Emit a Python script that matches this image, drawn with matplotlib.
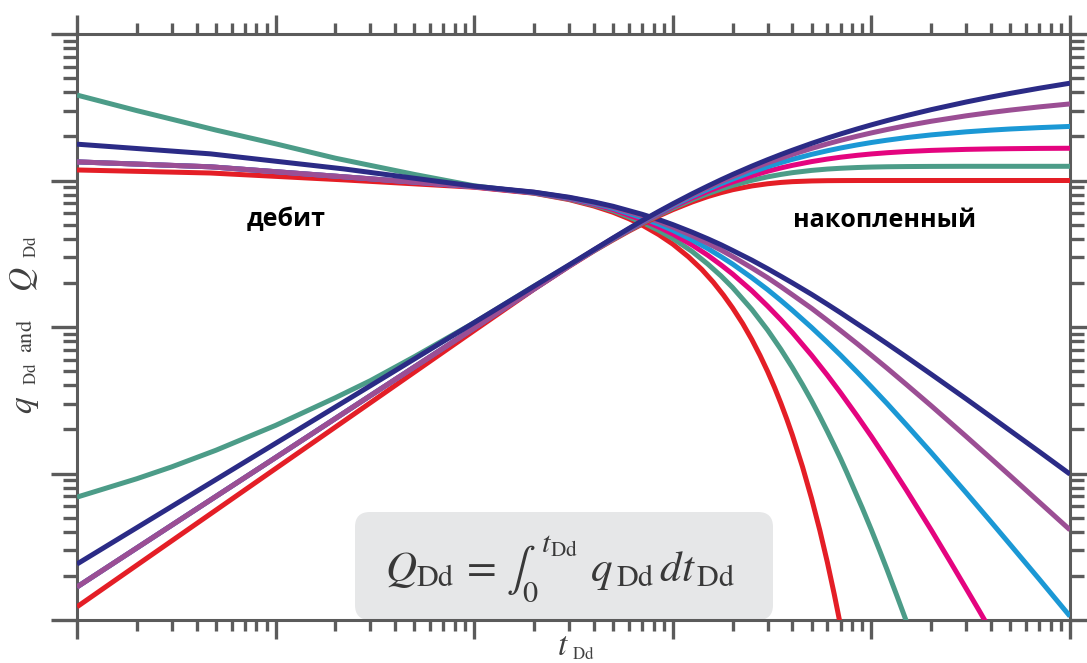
import numpy as np
import matplotlib
matplotlib.use("Agg")
import matplotlib.pyplot as plt
from matplotlib.patches import FancyBboxPatch
from matplotlib.ticker import LogLocator, NullFormatter

plt.rcParams["mathtext.fontset"] = "stix"
plt.rcParams["font.family"] = ["Open Sans", "DejaVu Sans"]

# Arps type curves, b = 0 ... 1 (dimensionless time, rate and cumulative)
B_VALUES = [0.0, 0.2, 0.4, 0.6, 0.8, 1.0]
COLORS = ["#e41e26", "#4c9c88", "#e4047f", "#1b98d5", "#9b4e94", "#2b2b86"]

# rate curves q_Dd(t_Dd)
t_rate_b00 = [0.001, 0.0047, 0.022, 0.1, 0.2, 0.3, 0.4, 0.5, 0.6, 0.7, 0.85, 1, 1.2,
              1.4, 1.6, 1.8, 2, 2.25, 2.5, 2.75, 3, 3.25, 3.5, 3.75, 4, 4.5, 5, 5.5,
              6, 6.5, 7]
q_rate_b00 = [1.18, 1.125, 1.01, 0.90, 0.819, 0.741, 0.670, 0.607, 0.549, 0.497,
              0.427, 0.368, 0.301, 0.247, 0.202, 0.165, 0.135, 0.1054, 0.0821,
              0.0639, 0.0498, 0.0388, 0.0302, 0.0235, 0.0183, 0.0111, 0.00674,
              0.00409, 0.00248, 0.00150, 0.00091]

t_rate_b02 = [0.001, 0.002, 0.005, 0.01, 0.02, 0.05, 0.1, 0.2, 0.3, 0.4, 0.5, 0.7,
              0.85, 1, 1.25, 1.5, 1.75, 2, 2.5, 3, 3.5, 4, 4.5, 5, 5.5, 6, 6.5, 7,
              7.5, 9, 10, 11, 12, 13.5, 15]
q_rate_b02 = [3.83, 3.0, 2.21, 1.78, 1.42, 1.10, 0.92, 0.822, 0.747, 0.681, 0.621,
              0.519, 0.456, 0.402, 0.328, 0.269, 0.223, 0.186, 0.1317, 0.0954,
              0.0704, 0.0529, 0.0404, 0.0313, 0.0245, 0.0194, 0.01554, 0.0126,
              0.01024, 0.00581, 0.00412, 0.00298, 0.0022, 0.00144, 0.00098]

t_rate_b04 = [0.001, 0.0047, 0.022, 0.1, 0.2, 0.3, 0.4, 0.5, 0.7, 0.85, 1, 1.25, 1.5,
              1.75, 2, 2.5, 3, 3.5, 4, 5, 6, 7, 8.5, 10, 12, 15, 20, 25, 30, 35, 40]
q_rate_b04 = [1.34, 1.24, 1.06, 0.905, 0.825, 0.753, 0.690, 0.634, 0.539, 0.481,
              0.431, 0.363, 0.309, 0.265, 0.230, 0.1768, 0.139, 0.112, 0.0917,
              0.0641, 0.0469, 0.0355, 0.0246, 0.0179, 0.01234, 0.00771, 0.00412,
              0.00249, 0.00164, 0.00115, 0.00084]

t_rate_long = [0.001, 0.0047, 0.022, 0.1, 0.2, 0.3, 0.4, 0.5, 0.7, 0.85, 1, 1.25,
               1.5, 1.75, 2, 2.5, 3, 3.5, 4, 5, 6, 7, 8.5, 10, 12, 15, 20, 30, 40,
               50, 70, 100]
q_rate_b06 = [1.34, 1.24, 1.06, 0.907, 0.828, 0.759, 0.699, 0.646, 0.557, 0.503,
              0.457, 0.393, 0.343, 0.302, 0.269, 0.217, 0.180, 0.1517, 0.130,
              0.0992, 0.0786, 0.0641, 0.0491, 0.0390, 0.0300, 0.0215, 0.0139,
              0.00739, 0.00468, 0.00327, 0.00190, 0.00106]
q_rate_b08 = [1.34, 1.24, 1.06, 0.908, 0.831, 0.764, 0.707, 0.657, 0.574, 0.523,
              0.480, 0.420, 0.373, 0.335, 0.303, 0.253, 0.217, 0.1885, 0.166,
              0.134, 0.111, 0.0945, 0.0767, 0.0641, 0.0523, 0.0405, 0.0290,
              0.0179, 0.01264, 0.00964, 0.00638, 0.00412]
q_rate_b10 = [1.77, 1.52, 1.20, 0.915, 0.833, 0.769, 0.714, 0.667, 0.588, 0.541,
              0.5, 0.444, 0.4, 0.364, 0.333, 0.286, 0.25, 0.222, 0.2, 0.167, 0.143,
              0.125, 0.105, 0.0909, 0.0769, 0.0625, 0.0476, 0.0323, 0.0244,
              0.0196, 0.0141, 0.0099]

# cumulative curves Q_Dd(t_Dd)
t_cum = [0.001, 0.003, 0.01, 0.03, 0.1, 0.2, 0.3, 0.4, 0.5, 0.6, 0.7, 0.85, 1, 1.25,
         1.5, 1.75, 2, 2.5, 3, 3.5, 4, 5, 6, 7, 8.5, 10, 12, 15, 20, 30, 40, 50, 70,
         100]
t_cum_b02 = [0.001, 0.002, 0.003, 0.005, 0.01, 0.02, 0.03, 0.05, 0.1, 0.2, 0.3, 0.4,
             0.5, 0.6, 0.7, 0.85, 1, 1.25, 1.5, 1.75, 2, 2.5, 3, 3.5, 4, 5, 6, 7,
             8.5, 10, 12, 15, 20, 30, 40, 50, 70, 100]
Q_cum_b00 = [0.00123, 0.00347, 0.0108, 0.0304, 0.0946, 0.181, 0.259, 0.330, 0.393,
             0.451, 0.503, 0.573, 0.632, 0.713, 0.777, 0.826, 0.865, 0.918, 0.950,
             0.970, 0.982, 0.993, 0.9975, 0.999, 1.0, 1.0, 1.0, 1.0, 1.0, 1.0,
             1.0, 1.0, 1.0, 1.0]
Q_cum_b02 = [0.0069, 0.00921, 0.0111, 0.0144, 0.0213, 0.0329, 0.0430, 0.0627, 0.107,
             0.19, 0.263, 0.331, 0.396, 0.4556, 0.510, 0.583, 0.647, 0.738, 0.812,
             0.874, 0.925, 1.003, 1.059, 1.100, 1.131, 1.172, 1.197, 1.212, 1.2265,
             1.235, 1.241, 1.245, 1.248, 1.25, 1.25, 1.25, 1.25, 1.25]
Q_cum_b04 = [0.00168, 0.00444, 0.01285, 0.0340, 0.0984, 0.1817, 0.2605, 0.3327,
             0.399, 0.4597, 0.516, 0.5922, 0.661, 0.7595, 0.843, 0.9147, 0.976,
             1.0774, 1.156, 1.2183, 1.269, 1.346, 1.4008, 1.442, 1.4862, 1.518,
             1.5473, 1.577, 1.605, 1.631, 1.6429, 1.649, 1.656, 1.660]
Q_cum_b06 = [0.00168, 0.00444, 0.01285, 0.0340, 0.0984, 0.182, 0.261, 0.334, 0.401,
             0.4635, 0.521, 0.6005, 0.672, 0.7785, 0.870, 0.9507, 1.022, 1.1428,
             1.242, 1.324, 1.394, 1.508, 1.596, 1.667, 1.751, 1.817, 1.885, 1.962,
             2.048, 2.149, 2.2075, 2.247, 2.296, 2.339]
Q_cum_b08 = [0.00168, 0.00444, 0.01285, 0.0340, 0.0984, 0.1821, 0.262, 0.3353,
             0.403, 0.4668, 0.526, 0.6082, 0.684, 0.7955, 0.895, 0.9831, 1.062,
             1.2008, 1.318, 1.4188, 1.507, 1.656, 1.778, 1.881, 2.008, 2.113,
             2.2288, 2.367, 2.537, 2.764, 2.914, 3.024, 3.180, 3.333]
Q_cum_b10 = [0.00241, 0.00596, 0.01607, 0.0397, 0.1072, 0.1897, 0.265, 0.3365,
             0.405, 0.470, 0.531, 0.615, 0.693, 0.811, 0.916, 1.012, 1.099, 1.253,
             1.386, 1.504, 1.609, 1.792, 1.946, 2.079, 2.251, 2.398, 2.565, 2.773,
             3.045, 3.434, 3.714, 3.932, 4.263, 4.615]

RATE_CURVES = [
    (t_rate_b00, q_rate_b00),
    (t_rate_b02, q_rate_b02),
    (t_rate_b04, q_rate_b04),
    (t_rate_long, q_rate_b06),
    (t_rate_long, q_rate_b08),
    (t_rate_long, q_rate_b10),
]
CUM_CURVES = [
    (t_cum, Q_cum_b00),
    (t_cum_b02, Q_cum_b02),
    (t_cum, Q_cum_b04),
    (t_cum, Q_cum_b06),
    (t_cum, Q_cum_b08),
    (t_cum, Q_cum_b10),
]

W, H = 1087, 663
AXIS_GREY = "#5b5b5b"
LABEL_GREY = "#404040"


def px(x, y):
    """Figure fraction from pixel position (origin top-left)."""
    return x / W, 1 - y / H


fig = plt.figure(figsize=(W / 100, H / 100), dpi=100)
ax = fig.add_axes([77 / W, 43 / H, 993 / W, 586 / H])
ax.set_xscale("log")
ax.set_yscale("log")
ax.set_xlim(1e-3, 1e2)
ax.set_ylim(1e-3, 1e1)

for (t, q), color in zip(RATE_CURVES, COLORS):
    ax.plot(t, q, color=color, lw=3.6, solid_capstyle="butt",
            solid_joinstyle="round", zorder=3)
for (t, Q), color in zip(CUM_CURVES, COLORS):
    ax.plot(t, Q, color=color, lw=3.6, solid_capstyle="butt",
            solid_joinstyle="round", zorder=3)

for axis in (ax.xaxis, ax.yaxis):
    axis.set_major_locator(LogLocator(base=10, numticks=20))
    axis.set_minor_locator(LogLocator(base=10, subs=np.arange(2, 10), numticks=20))
    axis.set_major_formatter(NullFormatter())
    axis.set_minor_formatter(NullFormatter())

ax.tick_params(which="both", direction="out", top=True, right=True,
               color=AXIS_GREY, width=2.4)
ax.tick_params(axis="x", which="major", length=14)
ax.tick_params(axis="x", which="minor", length=8)
ax.tick_params(axis="y", which="major", length=19)
ax.tick_params(axis="y", which="minor", length=10)
for spine in ax.spines.values():
    spine.set_color(AXIS_GREY)
    spine.set_linewidth(2.2)

# grey formula panel sitting on the bottom axis
box = FancyBboxPatch((3.55, 0.43), 4.18, 1.08,
                     boxstyle="round,pad=0,rounding_size=0.15",
                     transform=fig.dpi_scale_trans, facecolor="#e6e7e8",
                     edgecolor="none", zorder=1, clip_on=False)
ax.add_patch(box)
ax.text(5.60, 0.93,
        r"$Q_{\mathrm{Dd}}\, =\, \int_{0}^{\,t_{\mathrm{Dd}}}\;\, q_{\,\mathrm{Dd}}\, dt_{\,\mathrm{Dd}}$",
        transform=fig.dpi_scale_trans, ha="center", va="center",
        fontsize=31, color="#383838", zorder=4)

fig.text(*px(286, 220), "дебит", ha="center", va="center",
         fontsize=18, fontweight="bold", color="black")
fig.text(*px(885, 221), "накопленный", ha="center", va="center",
         fontsize=18, fontweight="bold", color="black")

# y label built from pieces: large italic symbols, small roman subscripts
ylabel_parts = [
    (r"$q$", 32, 405, 24),
    (r"$\mathrm{Dd}$", 36, 374, 12),
    (r"$\mathrm{and}$", 32, 336, 16),
    (r"$Q$", 32, 279, 24),
    (r"$\mathrm{Dd}$", 36, 247, 12),
]
for text, x, y, size in ylabel_parts:
    fig.text(*px(x, y), text, rotation=90, rotation_mode="anchor",
             ha="center", va="baseline", fontsize=size, color=LABEL_GREY)

# x label: t with small subscript
fig.text(*px(563, 655), r"$t$", ha="center", va="baseline",
         fontsize=24, color=LABEL_GREY)
fig.text(*px(572, 659), r"$\mathrm{Dd}$", ha="left", va="baseline",
         fontsize=12, color=LABEL_GREY)

fig.savefig("out.png", dpi=100, facecolor="white")
